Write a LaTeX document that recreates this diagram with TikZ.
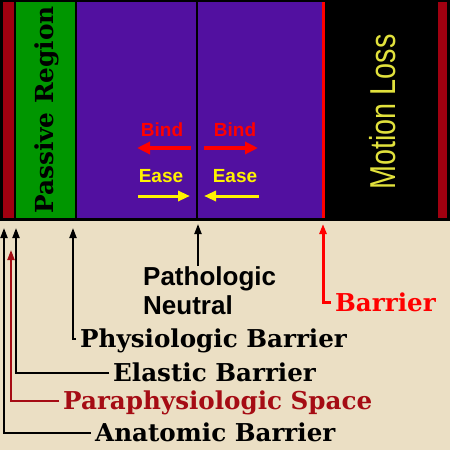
\documentclass[tikz,border=0pt]{standalone}
\usepackage{fontspec}
\setmainfont{Liberation Sans}
\newfontfamily\slabfont{DejaVu Serif}
\usetikzlibrary{arrows.meta}
\definecolor{StripRed}{RGB}{160,0,16}
\definecolor{RegionGreen}{RGB}{0,150,0}
\definecolor{NeutralPurple}{RGB}{82,16,160}
\definecolor{Parchment}{RGB}{235,223,196}
\definecolor{LossYellow}{RGB}{225,225,60}
\definecolor{SpaceRed}{RGB}{165,12,20}

\begin{document}
\begin{tikzpicture}[x=1pt,y=-1pt,
  lbl/.style={font=\slabfont\bfseries\fontsize{24.6}{28}\selectfont,text height=17pt,text depth=0pt,inner xsep=4pt,inner ysep=0pt,anchor=base west},
  hint/.style={font=\bfseries\fontsize{19}{22}\selectfont,anchor=base,inner sep=0pt},
  arr/.style={line width=2pt,-{Triangle[length=10pt,width=7pt]}},
  bindarr/.style={red,line width=4pt,-{Triangle[length=13pt,width=12pt]}},
  easearr/.style={yellow,line width=3pt,-{Triangle[length=12pt,width=10pt]}}]
% panel
\fill[Parchment] (0,0) rectangle (450,450);
\fill[black] (0,0) rectangle (450,221);
\fill[StripRed] (3,2) rectangle (13.5,218);
\fill[RegionGreen] (15.5,2) rectangle (74.5,218);
\fill[NeutralPurple] (77,2) rectangle (322,218);
\fill[red] (322,2) rectangle (325,218);
\fill[StripRed] (437.5,2) rectangle (447,218);
\draw[line width=2pt] (197,2) -- (197,218);
\node[font=\slabfont\bfseries\fontsize{24.8}{28}\selectfont,rotate=90,anchor=base,inner sep=0pt] (passive) at (53,110) {Passive Region};
\node[text=LossYellow,font=\fontsize{36}{40}\selectfont,rotate=90,anchor=base,inner sep=0pt] (loss) at (395,112) {\scalebox{0.8}[1]{Motion Loss}};
% bind / ease
\node[hint,text=red] (bindL) at (162,136) {Bind};
\node[hint,text=red] (bindR) at (235,136) {Bind};
\node[hint,text=yellow] (easeL) at (161,182) {Ease};
\node[hint,text=yellow] (easeR) at (235,182) {Ease};
\foreach \nm/\from/\to in {bindL/191/137,bindR/204/258} {
   \coordinate (\nm A) at (\from,148);
   \coordinate (\nm B) at (\to,148);
   \draw[bindarr] (\nm A) -- (\nm B);
}
\foreach \nm/\from/\to in {easeL/138/190,easeR/259/204} {
   \coordinate (\nm A) at (\from,196);
   \coordinate (\nm B) at (\to,196);
   \draw[easearr] (\nm A) -- (\nm B);
}
% labels
\node[font=\bfseries\fontsize{26}{29}\selectfont,align=left,anchor=north west,inner sep=0pt] (neutral) at (143,266) {Pathologic\\Neutral};
\coordinate (neutralTip) at (198,224);
\draw[arr] (neutral.north -| neutralTip) -- (neutralTip);
\coordinate (barrierTip) at (323,224);
\node[lbl,text=red] (barrier) at (331,311) {Barrier};
\draw[arr,red,line width=3pt] (barrier.west) -| (barrierTip);
\foreach \nm/\tipx/\tipy/\lx/\ly/\col/\txt in %
{ana/4/228/91/441/black/Anatomic Barrier,
 para/11/250/59/409/SpaceRed/Paraphysiologic Space,
 ela/16/228/109/381/black/Elastic Barrier,
 phys/73/228/76/347/black/Physiologic Barrier} {
   \coordinate (\nm Tip) at (\tipx,\tipy);
   \node[lbl,text=\col] (\nm) at (\lx,\ly) {\txt};
   \draw[arr,draw=\col] (\nm.west) -| (\nm Tip);
}
\end{tikzpicture}
\end{document}
